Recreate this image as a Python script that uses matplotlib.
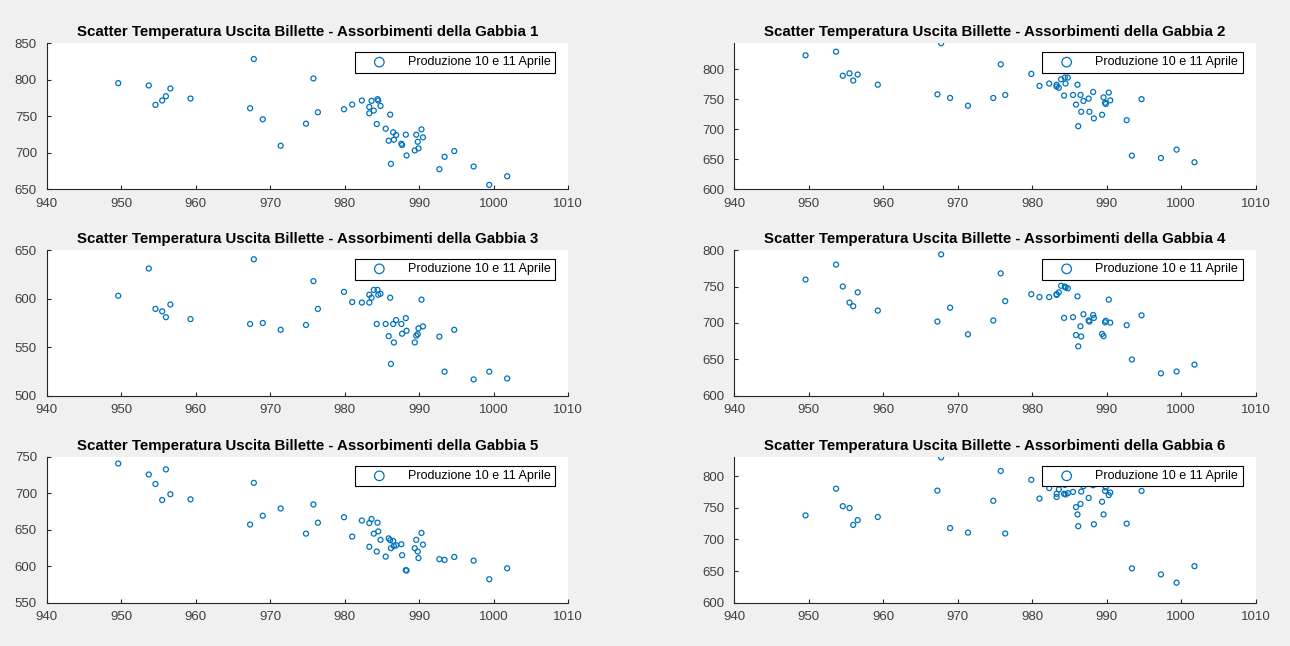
import matplotlib
matplotlib.use('Agg')
import matplotlib.pyplot as plt

plt.rcParams['font.family'] = ['Liberation Sans', 'DejaVu Sans']

# temperatura uscita billette (stessa per tutte le gabbie)
temp = [949.6, 953.7, 954.6, 955.5, 956.0, 956.6, 959.3, 967.3, 967.8, 969.0,
        971.4, 974.8, 975.8, 976.4, 979.9, 981.0, 982.3, 983.3, 983.3, 983.6,
        983.9, 984.4, 984.5, 984.8, 984.3, 985.5, 986.1, 985.9, 986.2, 986.5,
        986.6, 986.9, 987.6, 987.7, 988.2, 988.3, 989.4, 989.6, 989.8, 989.9,
        990.3, 990.5, 992.7, 993.4, 994.7, 997.3, 999.4, 1001.8]

# assorbimenti per gabbia
g1 = [795.4, 792.2, 765.6, 771.6, 777.5, 788.1, 774.3, 761.0, 828.4, 745.9,
      709.6, 739.9, 801.8, 755.5, 759.6, 766.1, 771.6, 762.8, 754.1, 771.1,
      757.8, 773.4, 771.6, 764.2, 739.4, 733.0, 752.3, 716.5, 684.9, 728.0,
      717.9, 724.3, 712.4, 710.6, 724.8, 696.3, 703.2, 724.8, 715.1, 706.0,
      732.1, 721.1, 677.5, 694.5, 702.3, 681.2, 656.0, 667.9]
g2 = [823, 829, 789, 793, 781, 791, 774, 758, 843, 752,
      739, 752, 808, 757, 792, 772, 776, 774, 771, 769,
      783, 786, 776, 786, 756, 757, 774, 741, 705, 757,
      729, 747, 751, 729, 762, 718, 724, 753, 744, 742,
      761, 748, 715, 656, 750, 652, 666, 645]
g3 = [603, 631, 589.5, 587, 581, 594, 579, 574, 640.5, 575,
      568, 573, 618, 589.5, 607, 596.5, 596, 604, 596, 601,
      609, 609, 604, 605, 574, 574, 601, 561.5, 533, 574,
      555, 578, 574, 564, 580, 567, 555, 562, 563.5, 569.5,
      599, 571.5, 561, 525, 568, 517, 525, 518]
g4 = [759.5, 780, 750, 728, 723, 742, 717, 702, 794, 721,
      684.5, 703.5, 768, 730, 739.5, 735.5, 735.5, 738.5, 739.5, 742,
      751, 750, 748.5, 747.5, 707, 708, 736.5, 683.5, 668, 695.5,
      681.5, 712, 703.5, 702, 711, 707, 685, 682, 701, 703,
      732, 700.5, 697, 650, 710.5, 631, 633.5, 643]
g5 = [741, 726, 713, 691, 733, 699, 692, 657.5, 714.5, 669.5,
      679.5, 645, 685, 660, 667.5, 641, 663, 659.5, 627, 665,
      645, 660, 648, 636.5, 620.5, 613.5, 636, 638.5, 625, 635,
      628, 629, 630.5, 615.5, 595, 594.5, 625, 636.5, 620.5, 611.5,
      646, 630, 610, 609, 613, 608, 582.5, 597.5]
g6 = [738, 780, 752.5, 749.5, 723, 730.5, 735.5, 777, 829.5, 718,
      711, 761, 808, 709.5, 794, 764.5, 781, 767, 772, 779,
      787.5, 786, 771, 773, 772, 775, 739.5, 751, 721, 756,
      775.5, 784, 765.5, 788, 785.5, 724, 759.5, 739.5, 776.5, 782,
      770, 774, 725, 654.5, 776.5, 645, 632, 658]

gabbie = [g1, g2, g3, g4, g5, g6]
ylims = [(650, 850), (600, 843), (500, 650), (600, 800), (550, 750), (600, 830)]
yticks = [range(650, 851, 50), range(600, 801, 50), range(500, 651, 50),
          range(600, 801, 50), range(550, 751, 50), range(600, 801, 50)]
xticks = range(940, 1011, 10)
label = 'Produzione 10 e 11 Aprile'
blue = '#0072BD'
axcol = '#262626'

fig = plt.figure(figsize=(12.9, 6.46), dpi=100, facecolor='#f0f0f0')

lefts = [0.0362, 0.569]
bottoms = [0.707, 0.387, 0.0666]
w, h = 0.4043, 0.226

for k, g in enumerate(gabbie):
    r, c = divmod(k, 2)
    ax = fig.add_axes([lefts[c], bottoms[r], w, h])
    ax.set_facecolor('white')
    ax.scatter(temp, g, s=13, facecolors='none', edgecolors=blue,
               linewidths=0.9, label=label, zorder=2)
    ax.set_xlim(940, 1010)
    ax.set_ylim(*ylims[k])
    ax.set_xticks(list(xticks))
    ax.set_yticks(list(yticks[k]))
    for s in ['top', 'right']:
        ax.spines[s].set_visible(False)
    for s in ['left', 'bottom']:
        ax.spines[s].set_color(axcol)
        ax.spines[s].set_linewidth(0.8)
    ax.tick_params(direction='in', length=3, width=0.8, color=axcol,
                   labelsize=9.5, labelcolor='#404040')
    ax.tick_params(axis='y', pad=7)
    ax.tick_params(axis='x', pad=6)
    ax.set_title('Scatter Temperatura Uscita Billette - Assorbimenti della Gabbia %d' % (k + 1),
                 fontsize=10.8, fontweight='bold', color='black', pad=5)
    leg = ax.legend(loc='upper right', fontsize=9, frameon=True, fancybox=False,
                    edgecolor='black', framealpha=1, markerscale=1.9,
                    borderpad=0.35, handletextpad=0.7, handlelength=3.2,
                    borderaxespad=0, bbox_to_anchor=(0.975, 0.94))
    leg.get_frame().set_linewidth(0.8)
    leg.set_zorder(5)

plt.savefig('out.png', dpi=100, facecolor=fig.get_facecolor())
